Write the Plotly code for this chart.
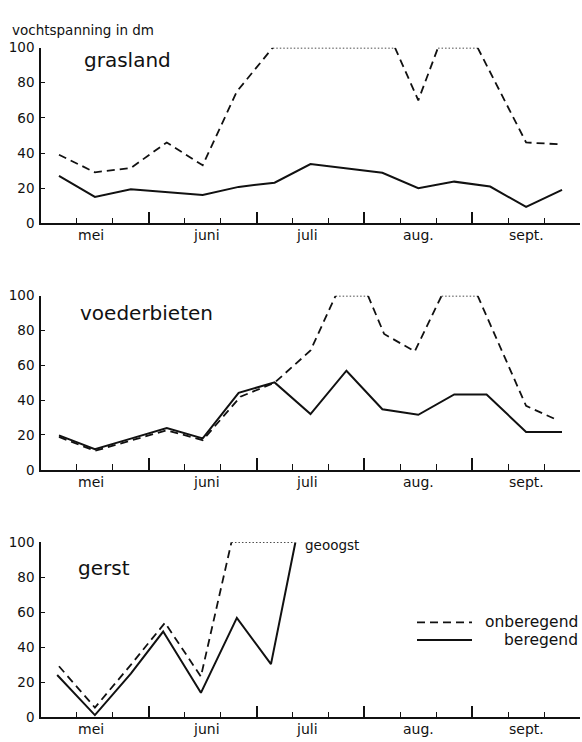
import plotly.graph_objects as go

# ---------------- data ----------------
months = ["mei", "juni", "juli", "aug.", "sept."]
month_pos = [1.4, 4.6, 7.4, 10.5, 13.5]          # decade units (0 = 1 May)
y_ticks = [0, 20, 40, 60, 80, 100]
cap = 100

# grasland
gras_ber_x = [0.5, 1.5, 2.5, 3.5, 4.5, 5.5, 6.5, 7.5, 8.5, 9.5, 10.5, 11.5, 12.5, 13.5, 14.5]
gras_ber_y = [27, 15, 19.4, 17.6, 16.1, 20.7, 23.1, 33.7, 31.2, 28.7, 20, 23.7, 20.9, 9.3, 19]
gras_onb_x = [0.5, 1.5, 2.5, 3.5, 4.5, 5.45, 6.45, 9.85, 10.5, 11.05, 12.15, 13.5, 14.4]
gras_onb_y = [39, 29, 31.5, 46, 33, 75, 100, 100, 70, 100, 100, 46, 45]

# voederbieten
voed_ber_x = [0.5, 1.5, 2.5, 3.5, 4.5, 5.5, 6.5, 7.5, 8.5, 9.5, 10.5, 11.5, 12.4, 13.5, 14.5]
voed_ber_y = [19.8, 11.8, 17.9, 24, 18, 44.2, 50.2, 32, 56.9, 34.8, 31.6, 43.3, 43.3, 21.7, 21.7]
voed_onb_x = [0.5, 1.5, 2.5, 3.5, 4.5, 5.55, 6.5, 7.5, 8.2, 9.1, 9.55, 10.4, 11.15, 12.15, 13.5, 14.4]
voed_onb_y = [18.9, 10.9, 16.8, 22.7, 17, 42, 50, 68.5, 100, 100, 78, 68, 100, 100, 36.7, 28.3]

# gerst
gerst_ber_x = [0.45, 1.5, 2.5, 3.4, 4.45, 5.45, 6.4, 7.08]
gerst_ber_y = [24.2, 1.3, 25, 49, 14, 56.8, 30.4, 100]
gerst_onb_x = [0.5, 1.5, 2.5, 3.45, 4.45, 5.3, 7.05]
gerst_onb_y = [29.2, 5.6, 30, 54, 23.3, 100, 100]

panels = [
    ("grasland", gras_ber_x, gras_ber_y, gras_onb_x, gras_onb_y),
    ("voederbieten", voed_ber_x, voed_ber_y, voed_onb_x, voed_onb_y),
    ("gerst", gerst_ber_x, gerst_ber_y, gerst_onb_x, gerst_onb_y),
]

# ---------------- layout helpers ----------------
W, H = 582, 742
FONT = "DejaVu Sans"
INK = "#111111"


def px_x(p):
    return p / W


def px_y(p):
    return 1 - p / H


x_dom = [px_x(41), px_x(580)]
# (pixel of y=0, pixel of y=100) for each panel
y_pix = [(220, 40.5), (472, 294), (725, 546)]
label_pos = [(82, 53), (78, 312), (76, 572)]

DASH = "8px,5px"
DOT = "1.5px,2px"


def runs(xs, ys):
    """Split a series into runs: dotted where it sits at the cap, dashed elsewhere."""
    out = []
    for i in range(len(xs) - 1):
        style = "dot" if (ys[i] >= cap and ys[i + 1] >= cap) else "dash"
        if out and out[-1][0] == style:
            out[-1][1].append(xs[i + 1])
            out[-1][2].append(ys[i + 1])
        else:
            out.append([style, [xs[i], xs[i + 1]], [ys[i], ys[i + 1]]])
    return out


fig = go.Figure()
annotations = []

for k, (name, bx, by, ox, oy) in enumerate(panels):
    xa = "x" if k == 0 else f"x{k + 1}"
    ya = "y" if k == 0 else f"y{k + 1}"
    # onberegend (dashed / dotted at cap)
    for style, rx, ry in runs(ox, oy):
        fig.add_trace(go.Scatter(
            x=rx, y=ry, mode="lines", xaxis=xa, yaxis=ya, cliponaxis=False,
            showlegend=False, hoverinfo="skip",
            line=dict(color=INK, width=1.8 if style == "dash" else 1.5,
                      dash=DASH if style == "dash" else DOT)))
    # beregend (solid)
    fig.add_trace(go.Scatter(
        x=bx, y=by, mode="lines", xaxis=xa, yaxis=ya, cliponaxis=False,
        showlegend=False, hoverinfo="skip",
        line=dict(color=INK, width=2)))

    y0p, y100p = y_pix[k]
    xkey = "xaxis" if k == 0 else f"xaxis{k + 1}"
    ykey = "yaxis" if k == 0 else f"yaxis{k + 1}"
    fig.layout[xkey] = dict(
        domain=x_dom, range=[0, 15], anchor=ya,
        showline=True, linecolor=INK, linewidth=1.5,
        showgrid=False, zeroline=False,
        tickmode="array", tickvals=[3, 6, 9, 12, 15],
        ticks="inside", ticklen=12, tickwidth=1.5, tickcolor=INK,
        showticklabels=False,
        minor=dict(tickmode="array", tickvals=list(range(1, 15)),
                   ticks="inside", ticklen=6, tickwidth=1.2, tickcolor=INK, showgrid=False),
    )
    fig.layout[ykey] = dict(
        domain=[px_y(y0p), px_y(y100p)], range=[0, 100], anchor=xa,
        showline=True, linecolor=INK, linewidth=1.5,
        showgrid=False, zeroline=False,
        tickmode="array", tickvals=y_ticks,
        ticks="inside", ticklen=4, tickwidth=1.2, tickcolor=INK,
        tickfont=dict(family=FONT, size=13.5, color=INK),
        ticklabelstandoff=2,
    )
    # month labels
    for m, pos in zip(months, month_pos):
        annotations.append(dict(
            x=pos, y=0, xref=xa, yref=f"{ya} domain", text=m, showarrow=False,
            xanchor="center", yanchor="top", yshift=-2,
            font=dict(family=FONT, size=14, color=INK)))
    # panel label
    lx, ly = label_pos[k]
    annotations.append(dict(
        x=px_x(lx), y=px_y(ly), xref="paper", yref="paper", text=name,
        showarrow=False, xanchor="left", yanchor="middle",
        font=dict(family=FONT, size=20, color=INK)))

# axis title
annotations.append(dict(
    x=px_x(10), y=px_y(22), xref="paper", yref="paper", text="vochtspanning in dm",
    showarrow=False, xanchor="left", yanchor="middle",
    font=dict(family=FONT, size=13.5, color=INK)))

# harvested note
annotations.append(dict(
    x=px_x(303), y=px_y(549), xref="paper", yref="paper", text="geoogst",
    showarrow=False, xanchor="left", yanchor="middle",
    font=dict(family=FONT, size=13.5, color=INK)))

# legend
leg_rows = [("onberegend", 628, "dash"), ("beregend", 646, "solid")]
shapes = []
for text, yp, style in leg_rows:
    shapes.append(dict(
        type="line", xref="paper", yref="paper",
        x0=px_x(417), x1=px_x(472), y0=px_y(yp), y1=px_y(yp),
        line=dict(color=INK, width=1.8 if style == "dash" else 2,
                  dash=DASH if style == "dash" else "solid")))
    annotations.append(dict(
        x=px_x(580), y=px_y(yp), xref="paper", yref="paper", text=text,
        showarrow=False, xanchor="right", yanchor="middle",
        font=dict(family=FONT, size=15.5, color=INK)))

fig.update_layout(
    width=W, height=H,
    margin=dict(l=0, r=0, t=0, b=0),
    paper_bgcolor="white", plot_bgcolor="white",
    annotations=annotations, shapes=shapes,
    showlegend=False,
)

fig.write_html("out.html")
